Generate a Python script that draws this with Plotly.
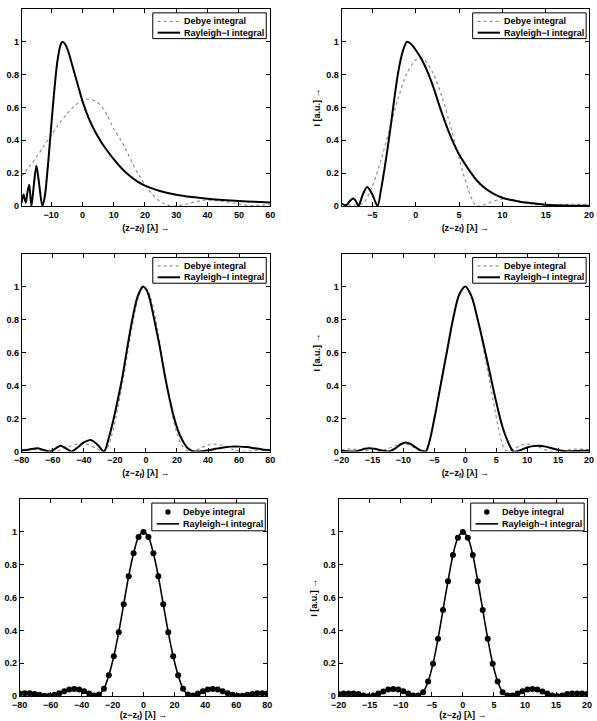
import plotly.graph_objects as go

# ---------------- data ----------------
# Panel 1 (top left)
p1_ray_x = [-19.4, -18.8, -18.1, -17.6, -17.0, -16.3, -15.5, -14.7, -13.8, -12.8, -12.0, -11.0, -10.0, -9.0, -8.0, -7.0,
            -6.4, -5.5, -4.5, -3.0, -1.5, 0, 2, 4, 6, 8, 10, 12.5, 15, 17.5, 20, 25, 30, 35, 40, 45, 50, 55, 60]
p1_ray_y = [0.02, 0.07, 0.02, 0.08, 0.13, 0.0, 0.13, 0.245, 0.13, 0.0, 0.06, 0.25, 0.48, 0.7, 0.88, 0.98,
            1.0, 0.985, 0.94, 0.84, 0.74, 0.64, 0.535, 0.455, 0.39, 0.335, 0.285, 0.23, 0.185, 0.15, 0.124, 0.09,
            0.068, 0.054, 0.044, 0.036, 0.03, 0.025, 0.021]
p1_deb_x = [-19.4, -17, -15, -12.5, -10, -7.5, -5, -2.5, 0, 2, 4, 6, 8, 10, 12, 14, 16, 18, 20, 22, 24, 26, 28,
            30, 33, 36, 39, 42, 45, 48, 51, 54, 57, 60]
p1_deb_y = [0.18, 0.24, 0.29, 0.36, 0.43, 0.5, 0.56, 0.61, 0.645, 0.65, 0.64, 0.61, 0.55, 0.47, 0.41, 0.34, 0.26,
            0.19, 0.13, 0.08, 0.04, 0.015, 0.003, 0.0, 0.01, 0.025, 0.035, 0.035, 0.028, 0.018, 0.008, 0.003, 0.005, 0.01]

# Panel 2 (top right)
p2_ray_x = [-8.55, -8.0, -7.6, -7.2, -6.9, -6.6, -6.1, -5.6, -5.0, -4.4, -4.0, -3.5, -3.0, -2.5, -2.0, -1.5, -1.0,
            -0.5, 0, 0.5, 1, 1.5, 2, 2.8, 3.5, 4.1, 5, 6.2, 7, 7.9, 9, 10, 11, 12, 13, 14, 15, 16, 18, 20]
p2_ray_y = [0.015, 0.005, 0.03, 0.045, 0.03, 0.0, 0.07, 0.115, 0.07, 0.0, 0.1, 0.26, 0.44, 0.64, 0.82, 0.94, 1.0,
            0.985, 0.95, 0.91, 0.86, 0.8, 0.73, 0.6, 0.495, 0.415, 0.315, 0.215, 0.158, 0.112, 0.073, 0.05, 0.036,
            0.026, 0.019, 0.013, 0.008, 0.005, 0.002, 0.001]
p2_deb_x = [-8.55, -7, -6, -5, -4, -3, -2, -1, 0, 0.5, 1, 2, 3, 4, 5, 6, 7, 8, 9, 10.5, 12, 13.5, 15, 17, 20]
p2_deb_y = [0.01, 0.005, 0.02, 0.12, 0.28, 0.47, 0.66, 0.81, 0.89, 0.9, 0.89, 0.81, 0.67, 0.49, 0.29, 0.11, 0.0,
            0.01, 0.03, 0.045, 0.03, 0.01, 0.005, 0.01, 0.01]

# Panel 3 (middle left)
p3_ray_x = [-80, -75, -70, -66, -62, -58, -55, -51.5, -48, -44, -40, -35.5, -31, -27, -24, -21, -18, -15, -12, -9,
            -6, -4, -2, 0, 2, 4, 6, 9, 12, 15, 18, 21, 24, 27, 30, 33, 36, 40, 45, 50, 55, 60, 65, 70, 75, 80]
p3_ray_y = [0.005, 0.012, 0.02, 0.01, 0.0, 0.02, 0.035, 0.02, 0.0, 0.025, 0.055, 0.07, 0.04, 0.0, 0.08, 0.19, 0.32,
            0.46, 0.63, 0.79, 0.92, 0.97, 1.0, 0.985, 0.94, 0.86, 0.77, 0.63, 0.47, 0.33, 0.21, 0.12, 0.06, 0.02,
            0.003, 0.0, 0.002, 0.008, 0.017, 0.025, 0.03, 0.03, 0.027, 0.02, 0.013, 0.008]
p3_deb_x = [-80, -76, -72, -68, -64, -60, -56, -52, -48, -44, -40, -36, -32, -28, -25, -22, -19, -16, -13, -10, -7,
            -4, -1, 2, 5, 8, 11, 14, 17, 20, 23, 26, 29, 32, 36, 40, 44, 48, 52, 56, 60, 64, 68, 72, 76, 80]
p3_deb_y = [0.012, 0.015, 0.014, 0.009, 0.003, 0.0, 0.006, 0.02, 0.035, 0.045, 0.048, 0.038, 0.018, 0.003, 0.02,
            0.1, 0.22, 0.37, 0.53, 0.7, 0.85, 0.96, 1.0, 0.96, 0.86, 0.71, 0.54, 0.37, 0.22, 0.11, 0.04, 0.008, 0.0,
            0.006, 0.025, 0.04, 0.045, 0.04, 0.027, 0.013, 0.004, 0.001, 0.004, 0.008, 0.012, 0.013]

# Panel 4 (middle right)
p4_ray_x = [-20, -19, -18, -17, -16.3, -15.5, -14.7, -13.5, -12.4, -11.3, -10.4, -9.6, -8.8, -7.8, -7.0, -6.4,
            -5.8, -5.0, -4.0, -3.0, -2.0, -1.0, 0, 1, 2, 3, 4, 5, 6, 7, 7.8, 9, 10, 11, 11.8, 13, 14, 15, 16, 17,
            18, 19, 20]
p4_ray_y = [0.003, 0.002, 0.0, 0.008, 0.017, 0.02, 0.017, 0.007, 0.0, 0.02, 0.045, 0.055, 0.045, 0.02, 0.004, 0.0,
            0.06, 0.2, 0.4, 0.6, 0.8, 0.95, 1.0, 0.94, 0.8, 0.64, 0.47, 0.3, 0.15, 0.05, 0.0, 0.01, 0.025, 0.033,
            0.035, 0.03, 0.02, 0.01, 0.003, 0.002, 0.004, 0.005, 0.005]
p4_deb_x = [-20, -19.2, -18.4, -17.6, -16.8, -16, -15.2, -14.4, -13.6, -12.8, -12, -11.2, -10.4, -9.6, -8.8, -8,
            -7.2, -6.4, -5.6, -4.8, -4, -3.2, -2.4, -1.6, -0.8, 0, 0.8, 1.6, 2.4, 3.2, 4, 4.8, 5.6, 6.4, 7.2, 8,
            8.8, 9.6, 10.4, 11.2, 12, 12.8, 13.6, 14.4, 15.2, 16, 16.8, 17.6, 18.4, 19.2, 20]
p4_deb_y = [0.012, 0.014, 0.015, 0.014, 0.011, 0.006, 0.002, 0.0, 0.004, 0.013, 0.025, 0.037, 0.044, 0.045, 0.035,
            0.018, 0.004, 0.01, 0.1, 0.25, 0.41, 0.57, 0.73, 0.87, 0.965, 1.0, 0.965, 0.87, 0.73, 0.57, 0.41, 0.25,
            0.1, 0.01, 0.004, 0.018, 0.035, 0.045, 0.044, 0.037, 0.025, 0.013, 0.004, 0.0, 0.002, 0.006, 0.011,
            0.014, 0.015, 0.014, 0.012]

# Panel 5 (bottom left)
p5_deb_x = [-80, -76.8, -73.6, -70.4, -67.2, -64, -60.8, -57.6, -54.4, -51.2, -48, -44.8, -41.6, -38.4, -35.2, -32,
            -28.8, -25.6, -22.4, -19.2, -16, -12.8, -9.6, -6.4, -3.2, 0, 3.2, 6.4, 9.6, 12.8, 16, 19.2, 22.4, 25.6,
            28.8, 32, 35.2, 38.4, 41.6, 44.8, 48, 51.2, 54.4, 57.6, 60.8, 64, 67.2, 70.4, 73.6, 76.8, 80]
p5_deb_y = [0.016, 0.018, 0.018, 0.014, 0.008, 0.002, 0.002, 0.008, 0.018, 0.03, 0.04, 0.044, 0.04, 0.03, 0.016,
            0.004, 0.01, 0.045, 0.127, 0.243, 0.39, 0.56, 0.73, 0.87, 0.97, 1.0, 0.97, 0.87, 0.73, 0.56, 0.39, 0.243,
            0.127, 0.045, 0.01, 0.004, 0.016, 0.03, 0.04, 0.044, 0.04, 0.03, 0.018, 0.008, 0.002, 0.002, 0.008,
            0.014, 0.018, 0.018, 0.016]
p5_ray_x = list(p5_deb_x)
p5_ray_y = [0.016, 0.018, 0.018, 0.014, 0.008, 0.002, 0.002, 0.008, 0.018, 0.03, 0.04, 0.044, 0.04, 0.03, 0.016,
            0.004, 0.01, 0.045, 0.127, 0.243, 0.39, 0.56, 0.73, 0.87, 0.97, 1.0, 0.97, 0.87, 0.73, 0.56, 0.39, 0.243,
            0.127, 0.045, 0.01, 0.004, 0.016, 0.03, 0.04, 0.044, 0.04, 0.03, 0.018, 0.008, 0.002, 0.002, 0.008,
            0.014, 0.018, 0.018, 0.016]

# Panel 6 (bottom right)
p6_deb_x = [-20, -19.2, -18.4, -17.6, -16.8, -16, -15.2, -14.4, -13.6, -12.8, -12, -11.2, -10.4, -9.6, -8.8, -8,
            -7.2, -6.4, -5.6, -4.8, -4, -3.2, -2.4, -1.6, -0.8, 0, 0.8, 1.6, 2.4, 3.2, 4, 4.8, 5.6, 6.4, 7.2, 8,
            8.8, 9.6, 10.4, 11.2, 12, 12.8, 13.6, 14.4, 15.2, 16, 16.8, 17.6, 18.4, 19.2, 20]
p6_deb_y = [0.014, 0.016, 0.016, 0.016, 0.014, 0.004, 0.0, 0.004, 0.016, 0.028, 0.04, 0.044, 0.04, 0.03, 0.016,
            0.004, 0.004, 0.024, 0.089, 0.198, 0.35, 0.525, 0.7, 0.86, 0.965, 1.0, 0.965, 0.86, 0.7, 0.525, 0.35,
            0.198, 0.089, 0.024, 0.004, 0.004, 0.016, 0.03, 0.04, 0.044, 0.04, 0.028, 0.016, 0.004, 0.0, 0.004,
            0.014, 0.016, 0.016, 0.016, 0.014]
p6_ray_x = list(p6_deb_x)
p6_ray_y = [0.014, 0.016, 0.016, 0.016, 0.014, 0.004, 0.0, 0.004, 0.016, 0.028, 0.04, 0.044, 0.04, 0.03, 0.016,
            0.004, 0.004, 0.024, 0.089, 0.198, 0.35, 0.525, 0.7, 0.86, 0.965, 1.0, 0.965, 0.86, 0.7, 0.525, 0.35,
            0.198, 0.089, 0.024, 0.004, 0.004, 0.016, 0.03, 0.04, 0.044, 0.04, 0.028, 0.016, 0.004, 0.0, 0.004,
            0.014, 0.016, 0.016, 0.016, 0.014]

x_ranges = [[-19.4, 60], [-8.55, 20], [-80, 80], [-20, 20], [-80, 80], [-20, 20]]
x_ticks = [[-10, 0, 10, 20, 30, 40, 50, 60], [-5, 0, 5, 10, 15, 20],
           [-80, -60, -40, -20, 0, 20, 40, 60, 80], [-20, -15, -10, -5, 0, 5, 10, 15, 20],
           [-80, -60, -40, -20, 0, 20, 40, 60, 80], [-20, -15, -10, -5, 0, 5, 10, 15, 20]]
y_ticks = [0, 0.2, 0.4, 0.6, 0.8, 1]
y_ticktext = ["0", "0.2", "0.4", "0.6", "0.8", "1"]
legend_names = ["Debye integral", "Rayleigh\u2212I integral"]
x_title = "(z\u2212z<sub>f</sub>) [\u03bb] \u2192"
y_title = "I [a.u.] \u2192"

# ---------------- layout geometry (pixels in a 597x721 page) ----------------
W, H = 597, 721
boxes = [(14, 268, 9, 208), (341, 594, 9, 208),
         (14, 268, 256, 456), (341, 594, 256, 456),
         (12, 265, 504, 703), (338, 592, 504, 703)]
# legend boxes: left, right, top, bottom (pixels)
legend_boxes = [(148, 264, 13, 39), (475, 591, 13, 39),
                (148, 264, 260, 286), (475, 591, 260, 286),
                (147, 263, 508, 536), (473, 589, 508, 536)]

FONT = dict(family="Liberation Sans, Arial, sans-serif", size=9, color="black", weight="bold")


def px(x):
    return x / W


def py(y):
    return 1 - y / H


data = [(p1_deb_x, p1_deb_y, p1_ray_x, p1_ray_y),
        (p2_deb_x, p2_deb_y, p2_ray_x, p2_ray_y),
        (p3_deb_x, p3_deb_y, p3_ray_x, p3_ray_y),
        (p4_deb_x, p4_deb_y, p4_ray_x, p4_ray_y),
        (p5_deb_x, p5_deb_y, p5_ray_x, p5_ray_y),
        (p6_deb_x, p6_deb_y, p6_ray_x, p6_ray_y)]

DOT_COLOR = "#8f8f8f"
fig = go.Figure()
layout = {}
shapes = []
annotations = []
for i, (dx, dy, rx, ry) in enumerate(data):
    n = i + 1
    sfx = "" if n == 1 else str(n)
    markers = n >= 5
    if not markers:
        deb = go.Scatter(x=dx, y=dy, mode="lines", name=legend_names[0],
                         line=dict(color=DOT_COLOR, width=1.2, dash="dot", shape="spline", smoothing=0.8))
        ray = go.Scatter(x=rx, y=ry, mode="lines", name=legend_names[1],
                         line=dict(color="black", width=2, shape="spline", smoothing=0.8))
    else:
        deb = go.Scatter(x=dx, y=dy, mode="markers", name=legend_names[0],
                         marker=dict(color="black", size=6, symbol="circle"))
        ray = go.Scatter(x=rx, y=ry, mode="lines", name=legend_names[1],
                         line=dict(color="black", width=1.6, shape="spline", smoothing=0.8))
    for tr in (deb, ray):
        tr.update(xaxis="x" + sfx, yaxis="y" + sfx, showlegend=False)
        fig.add_trace(tr)

    x0, x1, y0, y1 = boxes[i]
    layout["xaxis" + sfx] = dict(
        domain=[px(x0), px(x1)], range=x_ranges[i], anchor="y" + sfx,
        tickmode="array", tickvals=x_ticks[i], ticks="inside", ticklen=4, tickwidth=1, tickcolor="black",
        showline=True, linecolor="black", linewidth=1, mirror="ticks", showgrid=False, zeroline=False,
        tickfont=FONT,
        title=dict(text=x_title, font=FONT, standoff=5),
    )
    ycfg = dict(
        domain=[py(y1), py(y0)], range=[0, 1.2], anchor="x" + sfx,
        tickmode="array", tickvals=y_ticks, ticktext=y_ticktext, ticks="inside", ticklen=4, tickwidth=1,
        tickcolor="black", showline=True, linecolor="black", linewidth=1, mirror="ticks", showgrid=False,
        zeroline=False, tickfont=FONT,
    )
    if n % 2 == 0:
        ycfg["title"] = dict(text=y_title, font=FONT, standoff=4)
    layout["yaxis" + sfx] = ycfg

    # legend box (drawn as shapes + text, compact like the original)
    lx0, lx1, ly0, ly1 = legend_boxes[i]
    shapes.append(dict(type="rect", xref="paper", yref="paper", x0=px(lx0), x1=px(lx1), y0=py(ly1), y1=py(ly0),
                       line=dict(color="black", width=1), fillcolor="white", layer="above"))
    rows = [ly0 + 8.5, ly0 + 20] if not markers else [ly0 + 9, ly0 + 21]
    s0, s1 = lx0 + 5, lx0 + 28
    if not markers:
        shapes.append(dict(type="line", xref="paper", yref="paper", x0=px(s0), x1=px(s1), y0=py(rows[0]),
                           y1=py(rows[0]), line=dict(color=DOT_COLOR, width=1.2, dash="dot"), layer="above"))
    else:
        cx, cy, r = (s0 + s1) / 2, rows[0], 2.8
        shapes.append(dict(type="circle", xref="paper", yref="paper", x0=px(cx - r), x1=px(cx + r),
                           y0=py(cy + r), y1=py(cy - r), line=dict(color="black", width=0),
                           fillcolor="black", layer="above"))
    shapes.append(dict(type="line", xref="paper", yref="paper", x0=px(s0), x1=px(s1), y0=py(rows[1]),
                       y1=py(rows[1]), line=dict(color="black", width=2 if not markers else 1.6), layer="above"))
    for name, ry_ in zip(legend_names, rows):
        annotations.append(dict(text=name, xref="paper", yref="paper", x=px(lx0 + 31), y=py(ry_),
                                xanchor="left", yanchor="middle", showarrow=False, font=FONT, borderpad=0))

fig.update_layout(**layout)
fig.update_layout(width=W, height=H, margin=dict(l=0, r=0, t=0, b=0), plot_bgcolor="white",
                  paper_bgcolor="white", font=FONT, shapes=shapes, annotations=annotations, showlegend=False)
fig.write_html("out.html")
